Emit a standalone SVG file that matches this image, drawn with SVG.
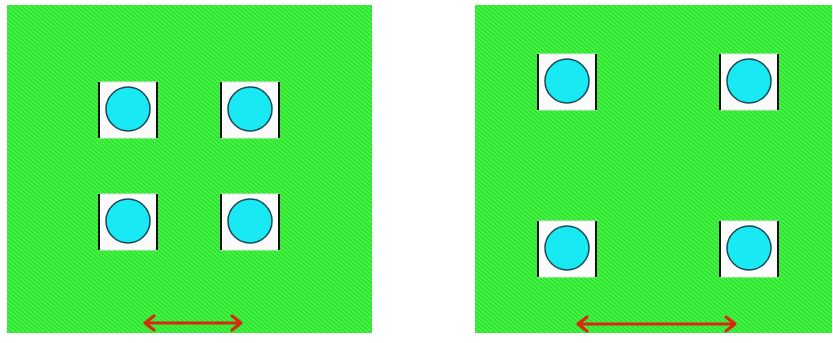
<svg xmlns="http://www.w3.org/2000/svg" width="833" height="343" viewBox="0 0 833 343">
<style>
.panel{fill:url(#hatch)}
.sq{fill:#fbfbfb;stroke:#e2e2e2;stroke-width:1}
.edge{stroke:#111;stroke-width:2}
.hole{fill:#19e9f2;stroke:#1a4a55;stroke-width:1.5}
.dim{fill:none;stroke:#d8280f;stroke-width:3.2;stroke-linecap:round;stroke-linejoin:round}
</style>
<defs>
<pattern id="hatch" patternUnits="userSpaceOnUse" width="3.2" height="3.2" patternTransform="rotate(40)">
<rect width="3.2" height="3.2" fill="#40f540"/>
<rect width="3.2" height="0.8" fill="#2ccf2c"/>
</pattern>
<g id="node">
<rect class="sq" x="0" y="0" width="58" height="56"/>
<line class="edge" x1="0" y1="0" x2="0" y2="56"/>
<line class="edge" x1="58" y1="0" x2="58" y2="56"/>
<circle class="hole" cx="29" cy="27" r="22"/>
</g>
</defs>
<rect width="833" height="343" fill="#fff"/>
<g id="panel-left">
<rect class="panel" x="7" y="5" width="365" height="328"/>
</g>
<g id="panel-right">
<rect class="panel" x="475" y="5" width="357" height="328"/>
</g>
<g id="n1"><use href="#node" x="99" y="82"/></g>
<g id="n2"><use href="#node" x="221" y="82"/></g>
<g id="n3"><use href="#node" x="99" y="194"/></g>
<g id="n4"><use href="#node" x="221" y="194"/></g>
<g id="n5"><use href="#node" x="538" y="54"/></g>
<g id="n6"><use href="#node" x="720" y="54"/></g>
<g id="n7"><use href="#node" x="538" y="221"/></g>
<g id="n8"><use href="#node" x="720" y="221"/></g>
<g id="connectors">
<path class="dim" d="M145 323 H241 M154 316 L145 323 L154 330 M232 316 L241 323 L232 330"/>
<path class="dim" d="M578 324 H735 M587 317 L578 324 L587 331 M726 317 L735 324 L726 331"/>
</g>
</svg>
